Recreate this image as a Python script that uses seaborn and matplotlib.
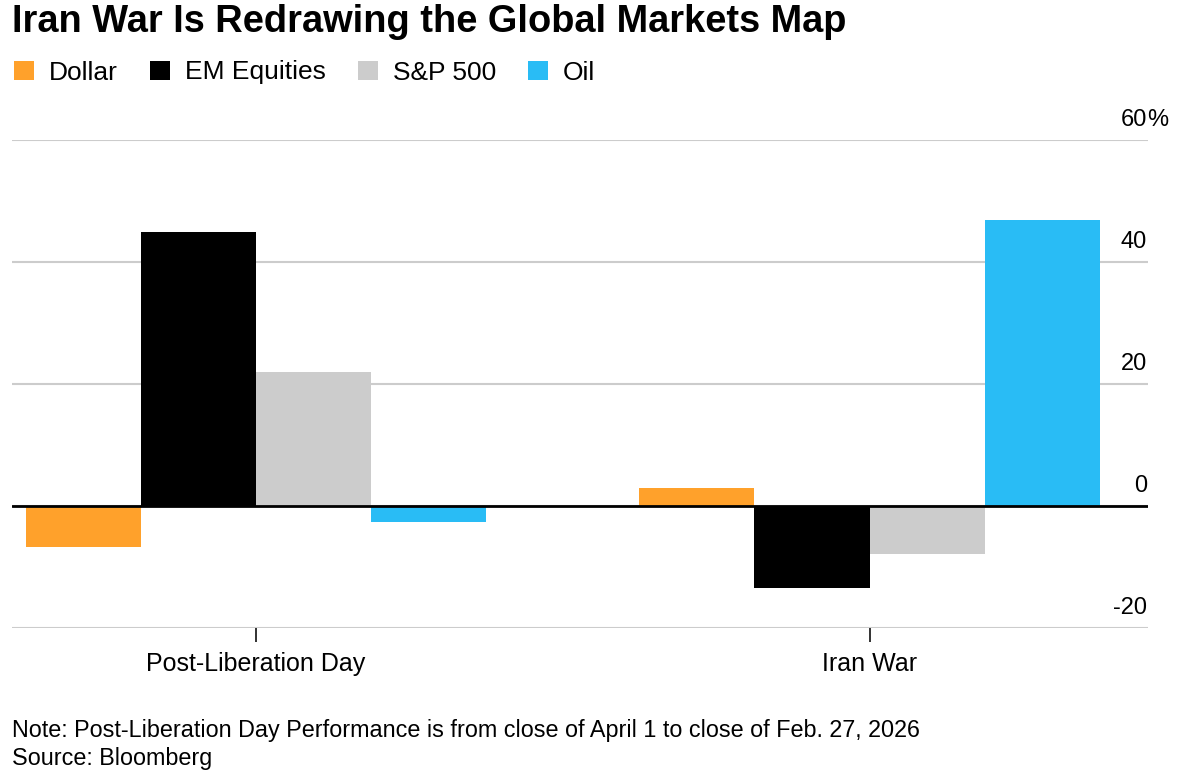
import matplotlib.pyplot as plt
import seaborn as sns
import pandas as pd

periods = ["Post-Liberation Day", "Iran War"]
assets = ["Dollar", "EM Equities", "S&P 500", "Oil"]
dollar = [-6.7, 2.9]
em_equities = [44.9, -13.4]
sp500 = [22.0, -7.8]
oil = [-2.7, 46.9]
colors = ["#ffa12b", "#000000", "#cccccc", "#29bcf5"]
y_ticks = [-20, 0, 20, 40, 60]

W, H = 1179, 779

values = [dollar, em_equities, sp500, oil]
rows = []
for asset, vals in zip(assets, values):
    for period, v in zip(periods, vals):
        rows.append({"period": period, "asset": asset, "value": v})
df = pd.DataFrame(rows)

sns.set_style("white")
plt.rcParams["font.family"] = ["Liberation Sans", "DejaVu Sans"]
plt.rcParams["text.color"] = "#000000"

fig = plt.figure(figsize=(W / 100, H / 100), dpi=100)
ax = fig.add_axes([12 / W, 1 - 628 / H, 1136 / W, 488 / H])

sns.barplot(data=df, x="period", y="value", hue="asset", order=periods,
            hue_order=assets, palette=colors, saturation=1, width=0.75,
            linewidth=0, ax=ax, zorder=3)

ax.set_xlim(-0.397, 1.4535)
ax.set_ylim(-20, 60)
ax.set_yticks(y_ticks)
ax.set_yticklabels([])
ax.tick_params(axis="y", length=0, left=False)
ax.grid(axis="y", color="#cccccc", linewidth=1.5, zorder=0)
ax.axhline(0, color="#000000", linewidth=2, zorder=4)
for s in ax.spines.values():
    s.set_visible(False)

ax.set_xlabel("")
ax.set_ylabel("")
ax.tick_params(axis="x", bottom=True, length=10, width=1.3, color="#222222",
               pad=7, labelsize=18, labelcolor="#000000")

# right-side tick labels sitting above gridlines
for v in y_ticks:
    ax.annotate(str(v), xy=(0.999, v), xycoords=ax.get_yaxis_transform(),
                xytext=(0, 10), textcoords="offset points", ha="right",
                va="baseline", fontsize=17, color="#000000")
ax.annotate("%", xy=(0.999, 60), xycoords=ax.get_yaxis_transform(),
            xytext=(0, 10), textcoords="offset points", ha="left",
            va="baseline", fontsize=17, color="#000000", annotation_clip=False)

handles, labels = ax.get_legend_handles_labels()
ax.get_legend().remove()
fig.legend(handles, labels, loc="center left", bbox_to_anchor=(14 / W, 1 - 72.5 / H),
           ncol=4, frameon=False, fontsize=19, handlelength=0.75,
           handleheight=0.75, handletextpad=0.57, columnspacing=1.22,
           borderpad=0, borderaxespad=0)

fig.text(12 / W, 1 - 22 / H, "Iran War Is Redrawing the Global Markets Map",
         fontsize=27.4, fontweight="bold", va="center", ha="left")
fig.text(12 / W, 1 - 731 / H,
         "Note: Post-Liberation Day Performance is from close of April 1 to close of Feb. 27, 2026",
         fontsize=16.8, va="center", ha="left")
fig.text(12 / W, 1 - 759 / H, "Source: Bloomberg", fontsize=16.8, va="center", ha="left")

fig.savefig("out.png", dpi=100, facecolor="white")
